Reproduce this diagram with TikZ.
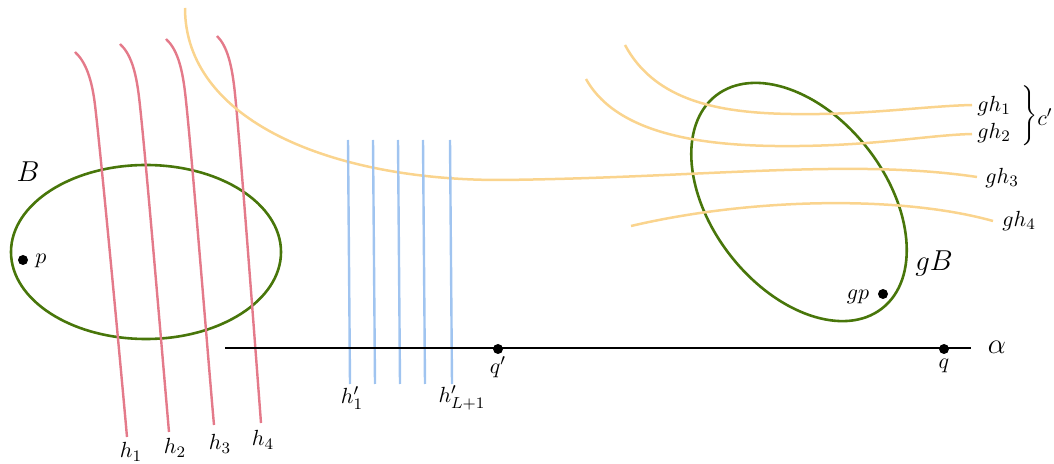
\documentclass[tikz,border=0pt]{standalone}
\usetikzlibrary{shapes.geometric}
\definecolor{hred}{RGB}{228,122,138}
\definecolor{hblue}{RGB}{160,196,240}
\definecolor{horange}{RGB}{250,212,142}
\definecolor{bgreen}{RGB}{72,118,10}
\tikzset{
  redline/.style={hred, line width=1.2pt},
  blueline/.style={hblue, line width=1.2pt},
  orangeline/.style={horange, line width=1.25pt},
  ballshape/.style={ellipse, draw=bgreen, line width=1.3pt, minimum width=135pt, minimum height=87pt, inner sep=0pt},
  dotpt/.style={circle, fill=black, inner sep=0pt, minimum size=5pt},
  lbl/.style={inner sep=0pt, font=\fontsize{11}{13}\selectfont},
  biglbl/.style={inner sep=0pt, font=\Large},
}
\begin{document}
\begin{tikzpicture}[x=0.5pt,y=-0.5pt]
\useasboundingbox (0,0) rectangle (1054,464);
% balls
\node[ballshape] (B) at (146,252) {};
\node[ballshape, rotate=-52] (gB) at (799,202) {};
% red hyperplanes
\draw[redline] (75,52) .. controls (86,62) and (92,80) .. (95,105) .. controls (101,155) and (122,380) .. (127,437);
\draw[redline] (120,44) .. controls (131,54) and (136,72) .. (139,97) .. controls (145,147) and (164,375) .. (169,432);
\draw[redline] (166,39) .. controls (177,49) and (182,67) .. (185,92) .. controls (191,142) and (209,370) .. (214,425);
\draw[redline] (217,36) .. controls (227,46) and (232,64) .. (235,94) .. controls (240,142) and (257,370) .. (261,423);
% orange translated hyperplanes
\draw[orangeline] (185,8) .. controls (185,120) and (330,180) .. (500,180) .. controls (700,178) and (850,158) .. (977,177);
\draw[orangeline] (625,45) .. controls (660,110) and (740,115) .. (820,114) .. controls (880,113) and (930,106) .. (972,105);
\draw[orangeline] (586,79) .. controls (620,140) and (720,147) .. (800,146) .. controls (880,145) and (930,135) .. (972,134);
\draw[orangeline] (631,226) .. controls (750,198) and (900,195) .. (993,221);
% blue hyperplanes
\draw[blueline] (348,140) -- (350,384);
\draw[blueline] (373,140) -- (375,384);
\draw[blueline] (398,140) -- (400,384);
\draw[blueline] (423,140) -- (425,384);
\draw[blueline] (450,140) -- (452,384);
% geodesic alpha
\coordinate (a0) at (225,348);
\coordinate (a1) at (971,348);
\draw[line width=1.3pt] (a0) -- (a1);
% points
\node[dotpt] (p) at (23,260) {};
\node[dotpt] (gp) at (883,294) {};
\node[dotpt] (qp) at (498,349) {};
\node[dotpt] (q) at (944,349) {};
% labels
\node[biglbl] (Blbl) at (28,172) {$B$};
\node[lbl] (plbl) at (41,261) {$p$};
\node[biglbl] (gBlbl) at (934,263) {$gB$};
\node[lbl] (gplbl) at (858,297) {$gp$};
\node[biglbl] (alpha) at (997,347) {$\alpha$};
\node[lbl] (qplbl) at (498,367) {$q'$};
\node[lbl] (qlbl) at (944,366) {$q$};
\node[lbl] (h1) at (131,452) {$h_1$};
\node[lbl] (h2) at (175,448) {$h_2$};
\node[lbl] (h3) at (220,444) {$h_3$};
\node[lbl] (h4) at (263,440) {$h_4$};
\node[lbl] (hp1) at (352,398) {$h'_1$};
\node[lbl] (hpL) at (462,398) {$h'_{L+1}$};
\node[lbl, anchor=west] (gh1) at (977,106) {$gh_1$};
\node[lbl, anchor=west] (gh2) at (977,133) {$gh_2$};
\node[lbl, anchor=west] (gh3) at (985,178) {$gh_3$};
\node[lbl, anchor=west] (gh4) at (1002,221) {$gh_4$};
\node[lbl] (brace) at (1028,117) {$\left.\vrule height13.5pt depth13.5pt width0pt\right\}$};
\node[lbl] (cp) at (1045,117) {$c'$};
\end{tikzpicture}
\end{document}
